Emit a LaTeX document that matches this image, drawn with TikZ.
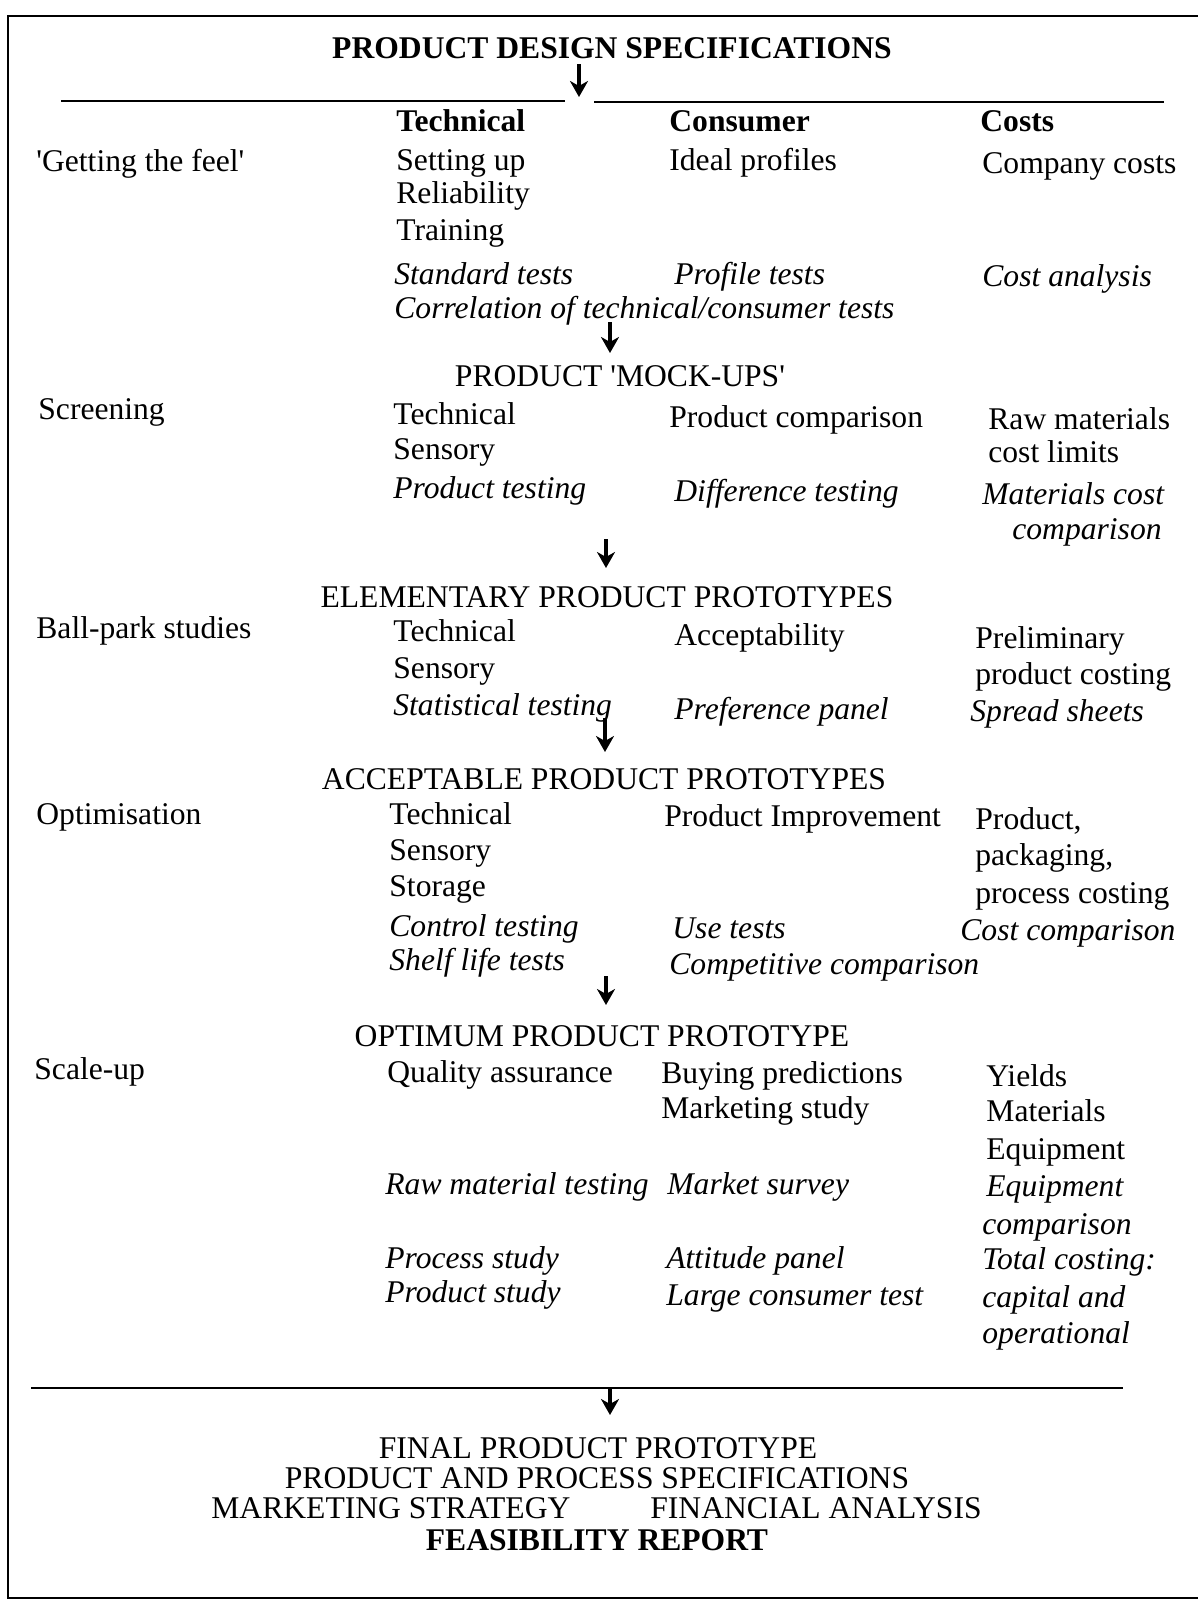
\documentclass[tikz,border=0pt]{standalone}
\usepackage{fontspec}
\setmainfont{Liberation Serif}
\usepackage{tikz}
\usetikzlibrary{arrows.meta}
\tikzset{
    txt/.style={
        anchor=west,
        inner sep=0pt,
        text height=13.5pt,
        text depth=3pt,
        font=\fontsize{15.8}{19}\selectfont
    },
    % italic entries (the tests)
    itx/.style={txt, font=\fontsize{15.8}{19}\selectfont\itshape},
    colhead/.style={txt, font=\fontsize{15.8}{19}\selectfont\bfseries},
    stage/.style={txt, anchor=center},
    flowarrow/.style={
        line width=1.7pt,
        black,
        -{Stealth[length=8pt, width=9pt, inset=2.5pt]}
    },
    rule/.style={line width=1pt, black}
}

\begin{document}
\begin{tikzpicture}[x=0.5pt,y=-0.5pt]
   \useasboundingbox (0,0) rectangle (1198,1602);
   \path
    (579,64) coordinate (a1s) (579,97) coordinate (a1e)
    (610,322) coordinate (a2s) (610,353) coordinate (a2e)
    (606,539) coordinate (a3s) (606,568) coordinate (a3e)
    (605,718) coordinate (a4s) (605,752) coordinate (a4e)
    (606,976) coordinate (a5s) (606,1005) coordinate (a5e)
    (610,1388) coordinate (a6s) (610,1415) coordinate (a6e);

    % frame and rules
    \draw[rule] (1198,16) -- (8,16) -- (8,1598) -- (1198,1598);
    \draw[rule] (61,101) -- (565,101);
    \draw[rule] (594,102) -- (1164,102);
    \draw[rule] (31,1388) -- (1123,1388);

    \node[stage, font=\fontsize{15.8}{19}\selectfont\bfseries] (pds) at (612,48) {PRODUCT DESIGN SPECIFICATIONS};

    % column heads
    \node[colhead] (tech) at (396,121) {Technical};
    \node[colhead] (cons) at (669,121) {Consumer};
    \node[colhead] (cost) at (980,121) {Costs};

    % 'Getting the feel'
    \node[txt] (feel) at (36,161) {\textquotesingle Getting the feel\textquotesingle};
    \node[txt] (setup) at (396,160) {Setting up};
    \node[txt] (ideal) at (669,160) {Ideal profiles};
    \node[txt] (company) at (982,163) {Company costs};
    \node[txt] (reliab) at (396,193) {Reliability};
    \node[txt] (train) at (396,230) {Training};
    \node[itx] (standard) at (394,274) {Standard tests};
    \node[itx] (profile) at (674,274) {Profile tests};
    \node[itx] (costan) at (982,276) {Cost analysis};
    \node[itx] (correl) at (394,308) {Correlation of technical/consumer tests};
    \draw[flowarrow] (a2s) -- (a2e);

    % Screening
    \node[stage] (mockups) at (620,376) {PRODUCT \textquotesingle MOCK-UPS\textquotesingle};
    \node[txt] (screen) at (38,409) {Screening};
    \node[txt] (techB) at (393,414) {Technical};
    \node[txt] (prodcomp) at (669,417) {Product comparison};
    \node[txt] (rawmat) at (988,419) {Raw materials};
    \node[txt] (sensB) at (393,449) {Sensory};
    \node[txt] (limits) at (988,452) {cost limits};
    \node[itx] (prodtest) at (393,488) {Product testing};
    \node[itx] (difftest) at (674,491) {Difference testing};
    \node[itx] (matcost) at (982,494) {Materials cost};
    \node[itx, anchor=east] (matcomp) at (1162,529) {comparison};
    \draw[flowarrow] (a3s) -- (a3e);

    % Ball-park studies
    \node[stage] (elem) at (607,597) {ELEMENTARY PRODUCT PROTOTYPES};
    \node[txt] (ballpark) at (36,628) {Ball-park studies};
    \node[txt] (techC) at (393,631) {Technical};
    \node[txt] (accept) at (674,635) {Acceptability};
    \node[txt] (prelim) at (975,638) {Preliminary};
    \node[txt] (sensC) at (393,668) {Sensory};
    \node[txt] (pcost) at (975,674) {product costing};
    \node[itx] (stat) at (393,705) {Statistical testing};
    \node[itx] (pref) at (674,709) {Preference panel};
    \node[itx] (spread) at (970,711) {Spread sheets};
    \draw[flowarrow] (a4s) -- (a4e);

    % Optimisation
    \node[stage] (acc) at (604,779) {ACCEPTABLE PRODUCT PROTOTYPES};
    \node[txt] (optim) at (36,814) {Optimisation};
    \node[txt] (techD) at (389,814) {Technical};
    \node[txt] (improve) at (664,816) {Product Improvement};
    \node[txt] (product) at (975,819) {Product,};
    \node[txt] (sensD) at (389,850) {Sensory};
    \node[txt] (packag) at (975,855) {packaging,};
    \node[txt] (storage) at (389,886) {Storage};
    \node[txt] (process) at (975,893) {process costing};
    \node[itx] (control) at (389,926) {Control testing};
    \node[itx] (use) at (672,928) {Use tests};
    \node[itx] (costcomp) at (960,930) {Cost comparison};
    \node[itx] (shelf) at (389,960) {Shelf life tests};
    \node[itx] (compet) at (669,964) {Competitive comparison};
    \draw[flowarrow] (a5s) -- (a5e);

    % Scale-up
    \node[stage] (opt) at (602,1036) {OPTIMUM PRODUCT PROTOTYPE};
    \node[txt] (scale) at (34,1069) {Scale-up};
    \node[txt] (quality) at (387,1072) {Quality assurance};
    \node[txt] (buying) at (661,1073) {Buying predictions};
    \node[txt] (yields) at (986,1076) {Yields};
    \node[txt] (marketing) at (661,1108) {Marketing study};
    \node[txt] (materials) at (986,1111) {Materials};
    \node[txt] (equip) at (986,1149) {Equipment};
    \node[itx] (rawtest) at (385,1184) {Raw material testing};
    \node[itx] (survey) at (667,1184) {Market survey};
    \node[itx] (equipB) at (986,1186) {Equipment};
    \node[itx] (equipC) at (982,1224) {comparison};
    \node[itx] (procstudy) at (385,1258) {Process study};
    \node[itx] (attitude) at (666,1258) {Attitude panel};
    \node[itx] (total) at (982,1259) {Total costing:};
    \node[itx] (prodstudy) at (385,1292) {Product study};
    \node[itx] (large) at (666,1295) {Large consumer test};
    \node[itx] (capital) at (982,1297) {capital and};
    \node[itx] (operat) at (982,1333) {operational};

    \draw[flowarrow] (a1s) -- (a1e);
    \draw[flowarrow] (a6s) -- (a6e);

    % final stage
    \node[stage] (final) at (598,1448) {FINAL PRODUCT PROTOTYPE};
    \node[stage] (specs) at (597,1478) {PRODUCT AND PROCESS SPECIFICATIONS};
    \node[txt] (strategy) at (211,1508) {MARKETING STRATEGY};
    \node[txt] (financial) at (650,1508) {FINANCIAL ANALYSIS};
    \node[stage, font=\fontsize{15.8}{19}\selectfont\bfseries] (report) at (597,1540) {FEASIBILITY REPORT};

\end{tikzpicture}
\end{document}
